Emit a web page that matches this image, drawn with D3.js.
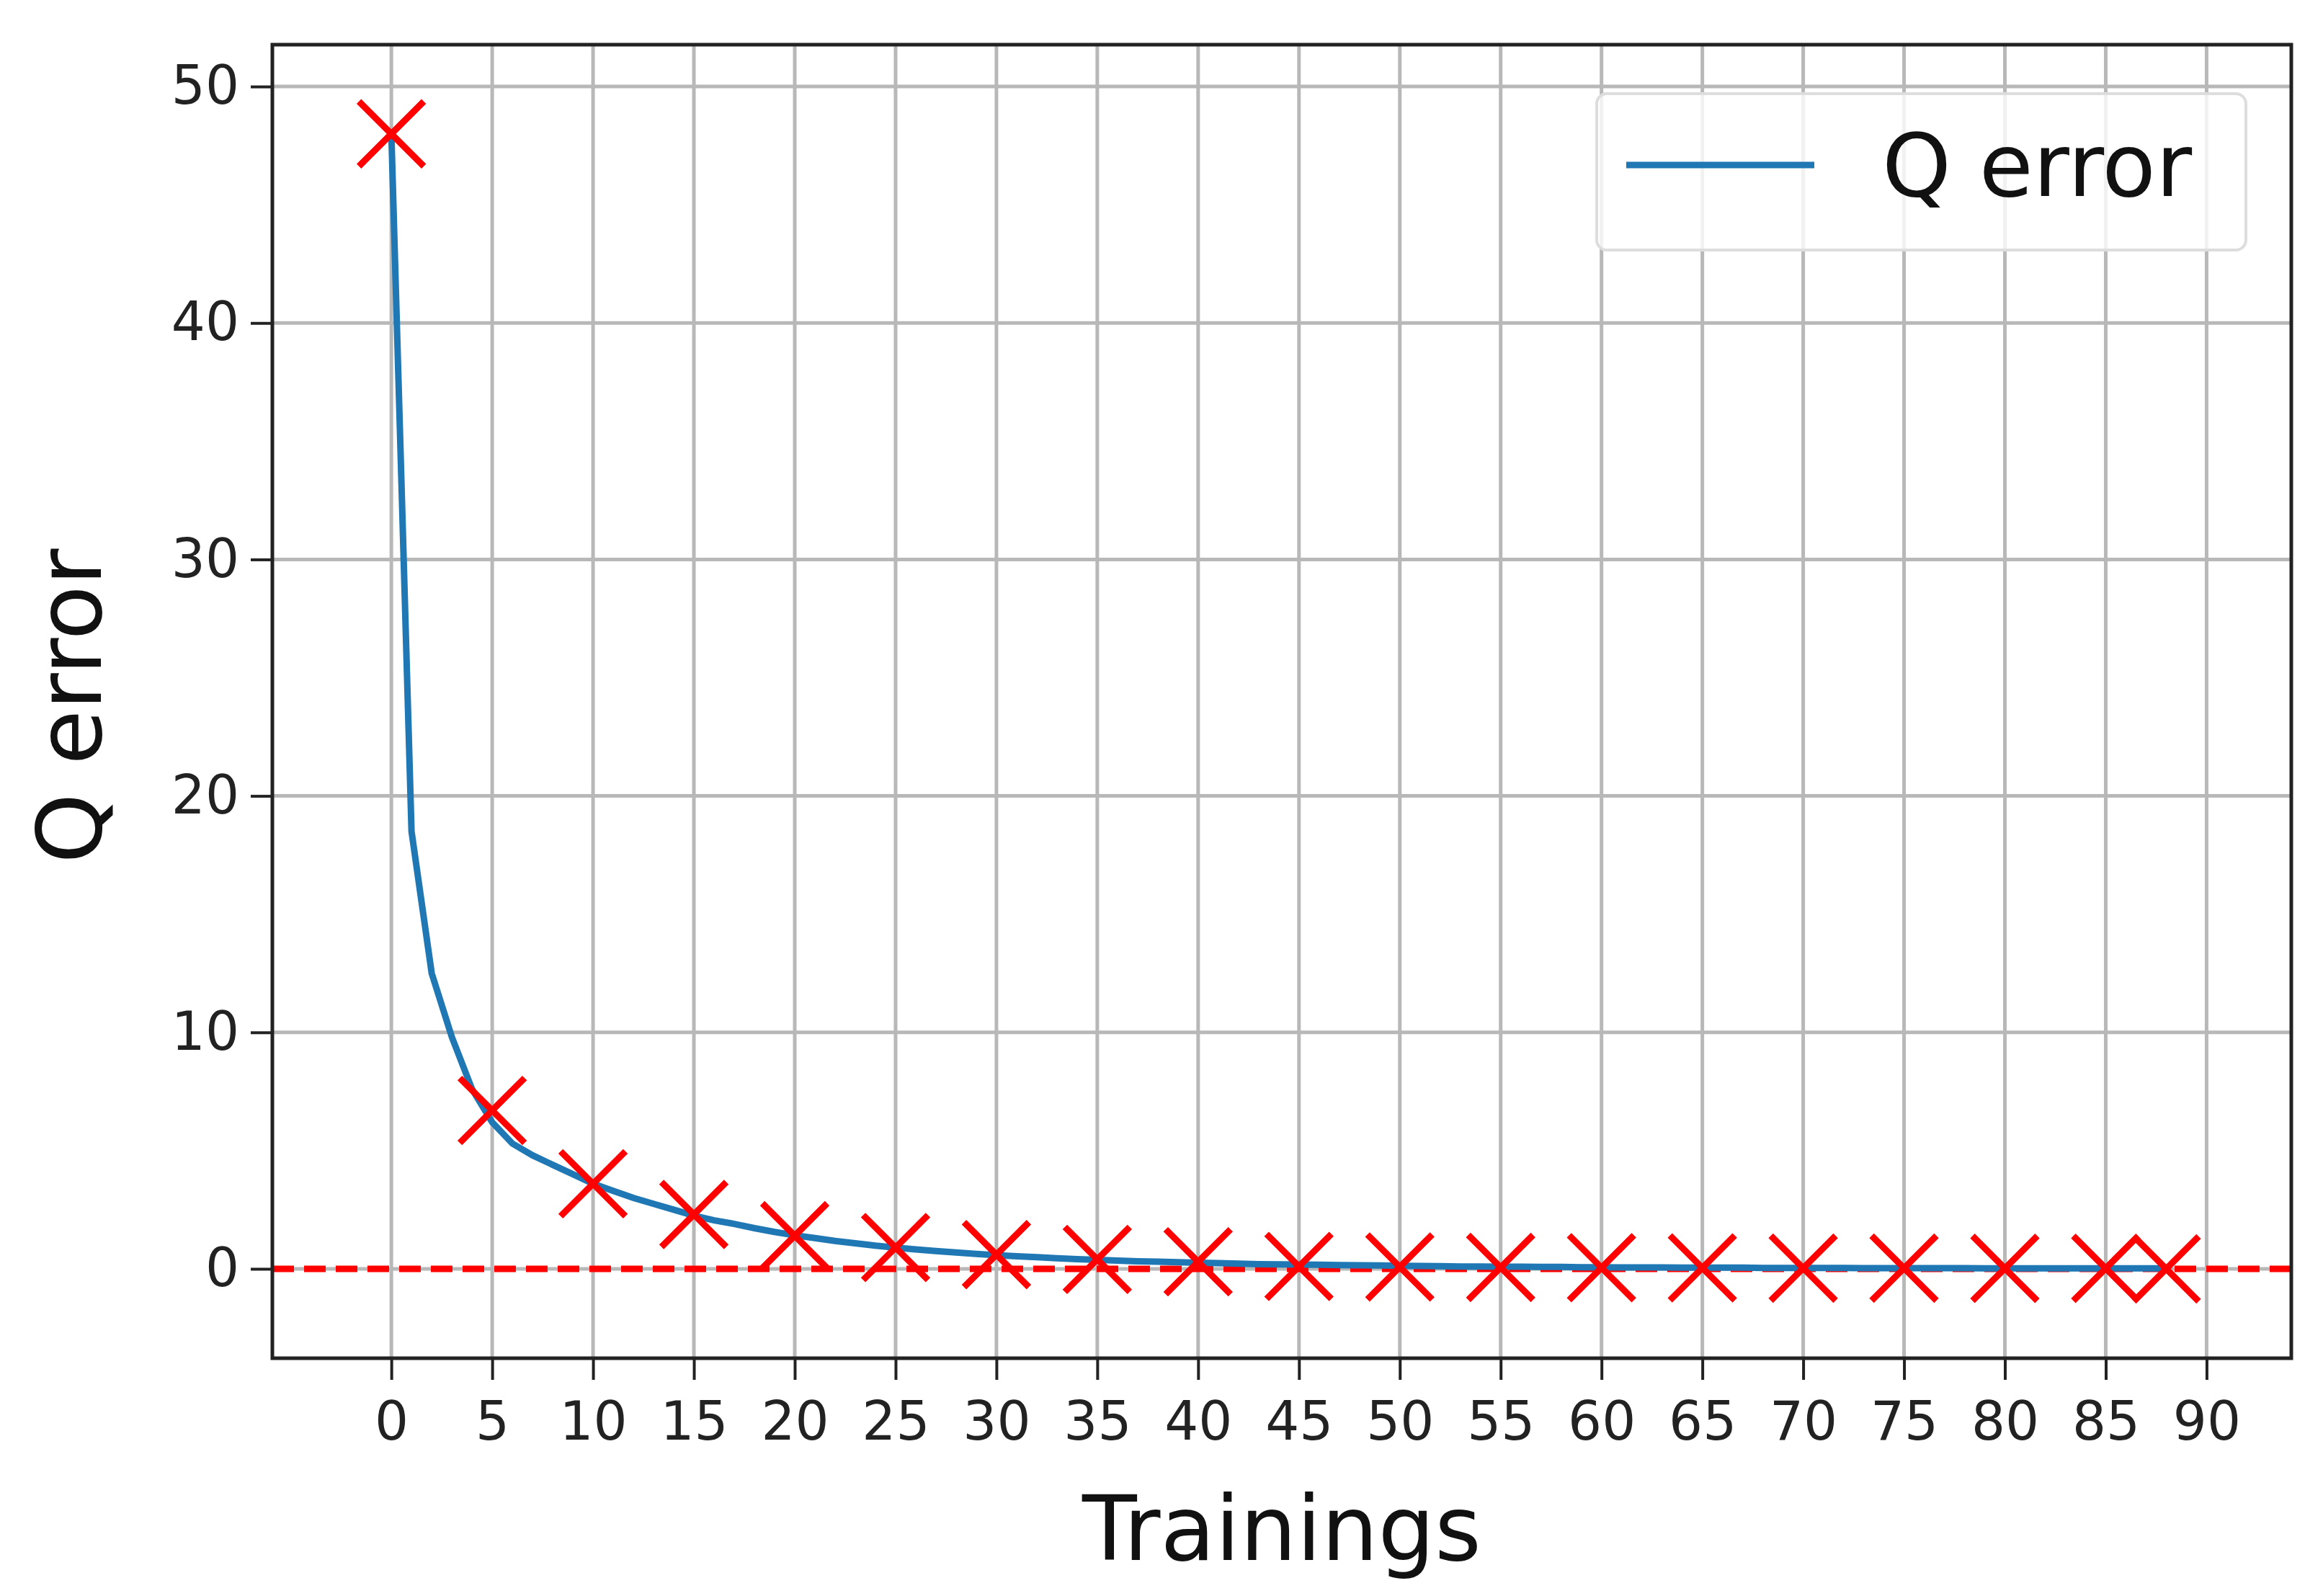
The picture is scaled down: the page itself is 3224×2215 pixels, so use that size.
<!DOCTYPE html>
<html><head><meta charset="utf-8">
<script src="https://d3js.org/d3.v7.min.js"></script>
<style>body{margin:0;background:#fff}</style></head>
<body><script>
const lineX = d3.range(0, 89);
const lineY = [48,18.5,12.5,9.8,7.6,6.2,5.3,4.8,4.4,4.0,3.6,3.3,3.0,2.75,2.5,2.25,2.05,1.9,1.72,1.56,1.42,1.3,1.18,1.08,0.98,0.9,0.82,0.75,0.69,0.63,0.58,0.53,0.49,0.45,0.41,0.38,0.35,0.32,0.3,0.28,0.26,0.24,0.22,0.2,0.19,0.18,0.17,0.16,0.15,0.14,0.13,0.12,0.11,0.1,0.1,0.09,0.09,0.08,0.08,0.07,0.07,0.06,0.06,0.06,0.05,0.05,0.05,0.05,0.04,0.04,0.04,0.04,0.04,0.03,0.03,0.03,0.03,0.03,0.03,0.02,0.02,0.02,0.02,0.02,0.02,0.02,0.02,0.02,0.02];
const markX = [0,5,10,15,20,25,30,35,40,45,50,55,60,65,70,75,80,85,88];
const markY = [48,6.7,3.6,2.3,1.4,0.9,0.6,0.4,0.3,0.1,0.08,0.06,0.05,0.04,0.03,0.03,0.02,0.02,0.0];
const xTicks = d3.range(0, 91, 5);
const yTicks = [0,10,20,30,40,50];

const W=3224,H=2215, L=378,R=3180,T=62,B=1885;
const svg=d3.select("body").append("svg").attr("width",W).attr("height",H);
const x=d3.scaleLinear().domain([-5.9,94.2]).range([L,R]);
const y=d3.scaleLinear().domain([-3.78,51.77]).range([B,T]);
const g=svg.append("g");
g.selectAll(".gx").data(xTicks).enter().append("line").attr("x1",d=>x(d)).attr("x2",d=>x(d)).attr("y1",T).attr("y2",B).attr("stroke","#b8b8b8").attr("stroke-width",5);
g.selectAll(".gy").data(yTicks).enter().append("line").attr("y1",d=>y(d)).attr("y2",d=>y(d)).attr("x1",L).attr("x2",R).attr("stroke","#b8b8b8").attr("stroke-width",5);
g.append("line").attr("x1",L).attr("x2",R).attr("y1",y(0)).attr("y2",y(0)).attr("stroke","red").attr("stroke-width",9).attr("stroke-dasharray","30,14");
g.append("path").datum(lineX.map((d,i)=>[d,lineY[i]])).attr("fill","none").attr("stroke","#1f77b4").attr("stroke-width",9)
 .attr("d",d3.line().x(d=>x(d[0])).y(d=>y(d[1])));
const s=45;
g.selectAll(".m").data(markX.map((d,i)=>[d,markY[i]])).enter().append("path")
 .attr("d",d=>{const cx=x(d[0]),cy=y(d[1]);return `M${cx-s},${cy-s}L${cx+s},${cy+s}M${cx-s},${cy+s}L${cx+s},${cy-s}`;})
 .attr("stroke","red").attr("stroke-width",9).attr("fill","none");
const fam="DejaVu Sans, sans-serif";
const xa=svg.append("g").attr("transform",`translate(0,${B})`).call(d3.axisBottom(x).tickValues(xTicks).tickSize(30).tickPadding(30));
const ya=svg.append("g").attr("transform",`translate(${L},0)`).call(d3.axisLeft(y).tickValues(yTicks).tickSize(30).tickPadding(16));
[xa,ya].forEach(a=>{a.select(".domain").remove();a.selectAll("line").attr("stroke","#222").attr("stroke-width",4);a.selectAll("text").attr("font-family",fam).attr("font-size",74).attr("fill","#222");});
svg.append("rect").attr("x",L).attr("y",T).attr("width",R-L).attr("height",B-T).attr("fill","none").attr("stroke","#222").attr("stroke-width",5);
svg.append("text").attr("x",(L+R)/2).attr("y",2165).attr("text-anchor","middle").attr("font-family",fam).attr("font-size",124).attr("fill","#111").text("Trainings");
svg.append("text").attr("transform","translate(140,980) rotate(-90)").attr("text-anchor","middle").attr("font-family",fam).attr("font-size",124).attr("fill","#111").text("Q error");
svg.append("rect").attr("x",2216).attr("y",130).attr("width",901).attr("height",217).attr("rx",14).attr("fill","#fff").attr("fill-opacity",0.8).attr("stroke","#ddd").attr("stroke-width",4);
svg.append("line").attr("x1",2257).attr("x2",2518).attr("y1",229).attr("y2",229).attr("stroke","#1f77b4").attr("stroke-width",9);
svg.append("text").attr("x",2612).attr("y",272).attr("font-family",fam).attr("font-size",122).attr("fill","#111").text("Q error");
</script></body></html>
